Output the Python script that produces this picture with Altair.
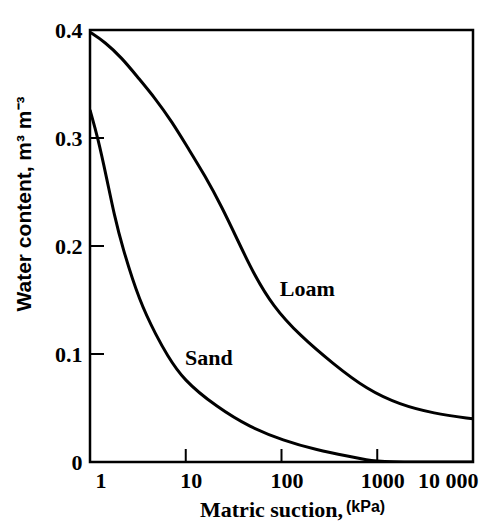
import altair as alt
import pandas as pd

# Data
loam_suction = [1, 1.43, 2.16, 3.17, 4.77, 7.18, 10.5, 15.9, 23.9, 35, 50, 81.5, 156, 345, 781, 1730, 3820, 10000]
loam_water = [0.398, 0.389, 0.374, 0.356, 0.337, 0.315, 0.291, 0.265, 0.236, 0.205, 0.176, 0.144, 0.117, 0.091, 0.067, 0.053, 0.045, 0.040]

sand_suction = [1, 1.21, 1.5, 1.8, 2.16, 3.3, 5.0, 6.3, 9.4, 21, 47, 104, 234, 519, 780, 1070, 10000]
sand_water = [0.326, 0.300, 0.262, 0.228, 0.200, 0.148, 0.116, 0.100, 0.076, 0.051, 0.032, 0.020, 0.011, 0.005, 0.002, 0.0, 0.0]

x_ticks = [1, 10, 100, 1000, 10000]
x_tick_labels = ["1", "10", "100", "1000", "10 000"]
y_ticks = [0, 0.1, 0.2, 0.3, 0.4]
y_tick_labels = ["0", "0.1", "0.2", "0.3", "0.4"]

inner_x_ticks = [10, 100, 1000]
inner_y_ticks = [0.1, 0.2, 0.3]

labels = ["Sand", "Loam"]
label_suction = [9.8, 96]
label_water = [0.096, 0.160]

W, H = 383, 432
SERIF = "Liberation Serif"
SANS = "Liberation Sans"

curves = pd.concat([
    pd.DataFrame({"s": loam_suction, "w": loam_water, "soil": "Loam"}),
    pd.DataFrame({"s": sand_suction, "w": sand_water, "soil": "Sand"}),
])

def build_expr(vals, labs):
    parts = []
    for v, l in zip(vals, labs):
        parts.append(f"abs(datum.value - {v}) < 1e-6 ? '{l}' : ")
    return "".join(parts) + "''"

xscale = alt.Scale(type="log", domain=[1, 10000], nice=False)
yscale = alt.Scale(domain=[0, 0.4], nice=False)

xaxis = alt.Axis(values=x_ticks, labelExpr=build_expr(x_ticks, x_tick_labels), title=None,
                 grid=False, domain=False, ticks=False, labelFont=SERIF, labelFontWeight="bold",
                 labelFontSize=22, labelColor="black", labelPadding=8, labelOffset=5)
yaxis = alt.Axis(values=y_ticks, labelExpr=build_expr(y_ticks, y_tick_labels), title=None,
                 grid=False, domain=False, ticks=False, labelFont=SERIF, labelFontWeight="bold",
                 labelFontSize=22, labelColor="black", labelPadding=8)

lines = alt.Chart(curves).mark_line(color="black", strokeWidth=3, interpolate="basis", clip=True).encode(
    x=alt.X("s:Q", scale=xscale, axis=xaxis),
    y=alt.Y("w:Q", scale=yscale, axis=yaxis),
    detail="soil:N",
)

ytick_rules = alt.Chart(pd.DataFrame({"v": inner_y_ticks})).mark_rule(color="black", strokeWidth=2).encode(
    y=alt.Y("v:Q", scale=yscale), x=alt.value(0), x2=alt.value(14)
)
xtick_rules = alt.Chart(pd.DataFrame({"v": inner_x_ticks})).mark_rule(color="black", strokeWidth=2).encode(
    x=alt.X("v:Q", scale=xscale), y=alt.value(H), y2=alt.value(H - 13)
)

curve_labels = alt.Chart(pd.DataFrame({"t": labels, "s": label_suction, "w": label_water})).mark_text(
    font=SERIF, fontWeight="bold", fontSize=22, align="left", baseline="middle", color="black"
).encode(x=alt.X("s:Q", scale=xscale), y=alt.Y("w:Q", scale=yscale), text="t:N")

xtitle1 = alt.Chart(pd.DataFrame({"t": ["Matric suction,"]})).mark_text(
    font=SERIF, fontWeight="bold", fontSize=22, align="right", baseline="alphabetic", color="black"
).encode(x=alt.value(253), y=alt.value(487), text="t:N")
xtitle2 = alt.Chart(pd.DataFrame({"t": ["(kPa)"]})).mark_text(
    font=SANS, fontWeight="bold", fontSize=16, align="left", baseline="alphabetic", color="black"
).encode(x=alt.value(256), y=alt.value(482), text="t:N")
ytitle = alt.Chart(pd.DataFrame({"t": ["Water content, m³ m⁻³"]})).mark_text(
    font=SANS, fontWeight="bold", fontSize=21, align="center", baseline="middle", angle=270, color="black"
).encode(x=alt.value(-65), y=alt.value(174), text="t:N")

chart = alt.layer(lines, ytick_rules, xtick_rules, curve_labels, xtitle1, xtitle2, ytitle).properties(
    width=W, height=H,
    autosize=alt.AutoSizeParams(type="none"),
    padding={"left": 82, "top": 22, "right": 19, "bottom": 60},
    background="white",
).configure_view(stroke="black", strokeWidth=2.5)

chart.save("out.html", embed_options={"renderer": "svg", "actions": False})
